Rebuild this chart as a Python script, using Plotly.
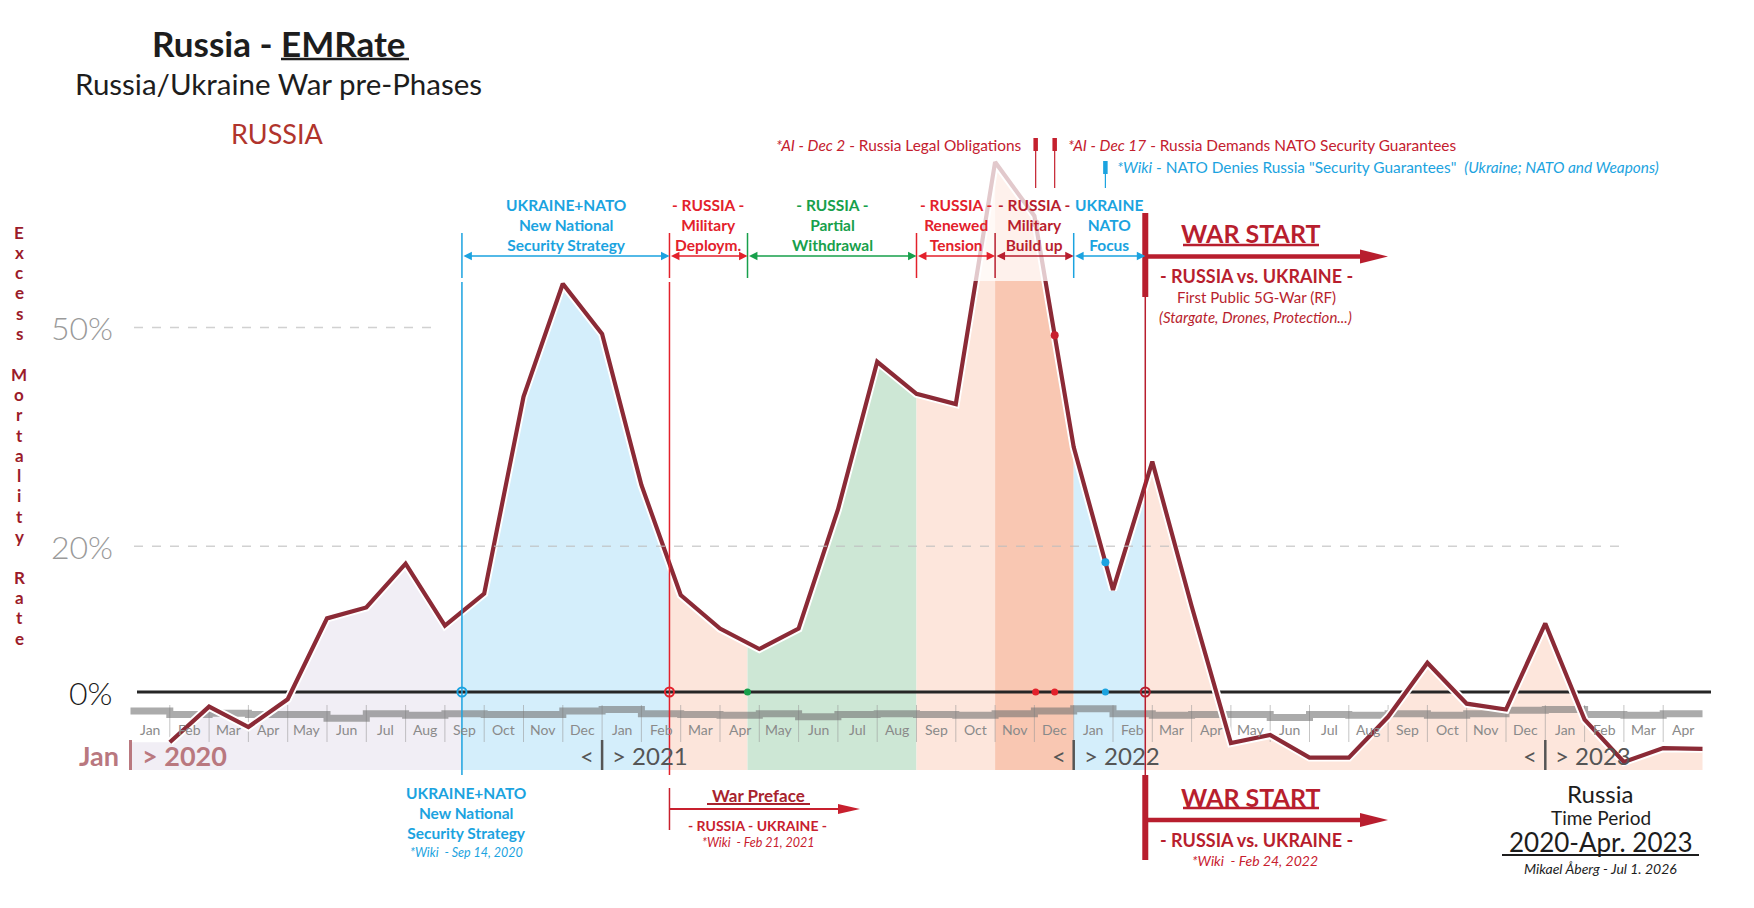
import numpy as np
import pandas as pd
import plotly.graph_objects as go

FONT = "Lato"
W, H = 1754, 908

# chart geometry in pixels: x of Jan 1 2020, px per month, y of the 0 % line, px per %
X0, XW = 130.5, 39.3
Y0, YH = 692.0, 7.29

BLUE = "#1ba3e0"
RED = "#e3212b"
GREEN = "#17a04b"
DRED = "#b81e2e"
MAROON = "#8b2a36"

# ---- data ----
months = pd.period_range("2020-01", "2023-04", freq="M")
month_names = [m.strftime("%b") for m in months]
years = ["2020", "2021", "2022", "2023"]

# excess mortality rate (%), one value per month, drawn at the end of the month
emrate = [-6.9, -2.0, -4.8, -1.0, 10.1, 11.6, 17.6, 9.1, 13.5, 40.5,
          56.0, 49.1, 28.4, 13.3, 8.7, 5.9, 8.7, 25.0, 45.3, 40.9,
          39.5, 72.7, 65.3, 33.6, 14.0, 31.6, 11.8, -7.0, -5.9, -9.0,
          -9.0, -3.4, 4.0, -1.6, -2.4, 9.4, -3.8, -9.6, -7.7, -7.8]

# grey seasonal strip below the zero line (%)
baseline = [-2.6, -3.1, -2.9, -3.1, -3.1, -3.6, -3.0, -3.2, -3.0, -3.1, -3.1, -2.6,
            -2.4, -3.0, -3.1, -3.2, -3.0, -3.4, -3.1, -3.0, -3.1, -3.2, -3.0, -2.6,
            -2.3, -3.0, -3.2, -3.1, -3.1, -3.5, -3.1, -3.2, -3.0, -3.2, -3.0, -2.5,
            -2.4, -3.1, -3.2, -3.0]

ytick_vals = [50, 20, 0]
ytick_text = ["50%", "20%", "0%"]
ytick_color = ["#9a9a9a", "#9a9a9a", "#1a1a1a"]

# phases (background bands under the curve)
phase_start = ["2020-01-01", "2020-09-14", "2021-02-21", "2021-04-22",
               "2021-09-01", "2021-11-01", "2022-01-01", "2022-02-24"]
phase_end = phase_start[1:] + ["2023-05-01"]
phase_fill = ["#f1eef5", "#d4eefb", "#fce5db", "#cde7d5",
              "#fde6dc", "#f9c7b2", "#d4eefb", "#fde6dc"]
phase_title = [None,
               "UKRAINE+NATO<br>New National<br>Security Strategy",
               "- RUSSIA -<br>Military<br>Deploym.",
               "- RUSSIA -<br>Partial<br>Withdrawal",
               "- RUSSIA -<br>Renewed<br>Tension",
               "- RUSSIA -<br>Military<br>Build up",
               "UKRAINE<br>NATO<br>Focus",
               None]
phase_color = [None, BLUE, RED, GREEN, RED, DRED, BLUE, DRED]

# events marked on the zero line / on the curve
dot_date = ["2021-04-22", "2021-12-02", "2021-12-17", "2022-01-26"]
dot_color = [GREEN, RED, RED, BLUE]
ring_date = ["2020-09-14", "2021-02-21", "2022-02-24"]
ring_color = [BLUE, RED, DRED]
curve_date = ["2021-12-02", "2021-12-17", "2022-01-26"]
curve_color = ["#c0392b", "#c8202f", BLUE]


def to_t(date):
    d = pd.Timestamp(date)
    return (d.year - 2020) * 12 + d.month - 1 + (d.day - 1) / d.days_in_month


def tx(px):
    return (px - X0) / XW


def vy(py):
    return (Y0 - py) / YH


month_t = np.arange(1, len(months) + 1)
BASE = vy(770)

fig = go.Figure()

# phase fills between curve and the bottom strip
for a, b, col in zip(phase_start, phase_end, phase_fill):
    ta, tb = to_t(a), to_t(b)
    inner = month_t[(month_t > ta) & (month_t < tb)]
    xs = np.concatenate([[ta], inner, [tb]])
    ys = np.interp(xs, month_t, emrate)
    fig.add_trace(go.Scatter(
        x=np.concatenate([xs, [tb, ta]]),
        y=np.concatenate([ys, [BASE, BASE]]),
        mode="lines", fill="toself", fillcolor=col,
        line=dict(width=0), hoverinfo="skip"))

# month separators
sep_x, sep_y = [], []
for t in month_t[:-1]:
    sep_x += [t, t, None]
    sep_y += [vy(705), vy(742), None]
fig.add_trace(go.Scatter(x=sep_x, y=sep_y, mode="lines",
                         line=dict(color="rgba(150,150,150,0.55)", width=1),
                         hoverinfo="skip"))

# grey step strip
fig.add_trace(go.Scatter(
    x=np.arange(0, len(months) + 1), y=baseline + baseline[-1:],
    mode="lines", line=dict(color="rgba(115,115,115,0.6)", width=7, shape="hv"),
    hoverinfo="skip"))

# zero line
fig.add_trace(go.Scatter(x=[tx(137), tx(1711)], y=[0, 0], mode="lines",
                         line=dict(color="#262626", width=3), hoverinfo="skip"))

# the curve, with a white halo
fig.add_trace(go.Scatter(x=month_t, y=emrate, mode="lines",
                         line=dict(color="white", width=8), hoverinfo="skip"))
fig.add_trace(go.Scatter(x=month_t, y=emrate, mode="lines",
                         line=dict(color=MAROON, width=4.2), name="Russia"))

# event dots
ct = [to_t(d) for d in curve_date]
fig.add_trace(go.Scatter(x=ct, y=np.interp(ct, month_t, emrate), mode="markers",
                         marker=dict(color=curve_color, size=8), hoverinfo="skip"))
fig.add_trace(go.Scatter(x=[to_t(d) for d in dot_date], y=[0] * len(dot_date),
                         mode="markers", marker=dict(color=dot_color, size=7),
                         hoverinfo="skip"))
fig.add_trace(go.Scatter(x=[to_t(d) for d in ring_date], y=[0] * len(ring_date),
                         mode="markers",
                         marker=dict(symbol="circle-open", color=ring_color, size=9,
                                     line=dict(width=2)),
                         hoverinfo="skip"))

shapes = []
annotations = []


def vline(t, y0, y1, color, width):
    shapes.append(dict(type="line", xref="x", yref="y", x0=t, x1=t, y0=y0, y1=y1,
                       line=dict(color=color, width=width), layer="above"))


def hline(t0, t1, v, color, width, dash=None):
    shapes.append(dict(type="line", xref="x", yref="y", x0=t0, x1=t1, y0=v, y1=v,
                       line=dict(color=color, width=width, dash=dash), layer="above"))


def arrow(x0, x1, ypix, color, lw, hl, hw):
    hline(tx(x0), tx(x1 - hl + 2), vy(ypix), color, lw)
    path = (f"M {tx(x1 - hl)},{vy(ypix - hw)} L {tx(x1)},{vy(ypix)} "
            f"L {tx(x1 - hl)},{vy(ypix + hw)} Z")
    shapes.append(dict(type="path", xref="x", yref="y", path=path,
                       fillcolor=color, line=dict(width=0), layer="above"))


def label(xp, yp, text, size, color, xanchor="center", weight=None):
    font = dict(family=FONT, size=size, color=color)
    if weight:
        font["weight"] = weight
    annotations.append(dict(x=tx(xp), y=vy(yp), xref="x", yref="y", text=text,
                            showarrow=False, xanchor=xanchor, yanchor="middle",
                            font=font))


# faded top of the chart
shapes.append(dict(type="rect", xref="x", yref="y", x0=tx(0), x1=tx(W),
                   y0=vy(281), y1=vy(0), fillcolor="white", opacity=0.75,
                   line=dict(width=0), layer="above"))

# dashed grid
hline(tx(134), tx(1622), 20, "rgba(190,190,190,0.7)", 1.5, "dash")
hline(tx(134), tx(436), 50, "rgba(190,190,190,0.7)", 1.5, "dash")

# phase headers with dimension arrows
ARROW_V = vy(256)
for i in range(1, 7):
    ta, tb = to_t(phase_start[i]), to_t(phase_end[i])
    col = phase_color[i]
    vline(ta, vy(233), vy(278), col, 1.5)
    annotations.append(dict(x=tb, y=ARROW_V, ax=ta, ay=ARROW_V, xref="x", yref="y",
                            axref="x", ayref="y", text="", showarrow=True,
                            arrowhead=2, arrowside="end+start", arrowsize=1.3,
                            arrowwidth=1.3, arrowcolor=col, standoff=0, startstandoff=0))
    annotations.append(dict(x=(ta + tb) / 2, y=vy(225), xref="x", yref="y",
                            text=f"<b>{phase_title[i]}</b>", showarrow=False,
                            font=dict(family=FONT, size=15.5, color=col)))

t_sep, t_feb, t_war = to_t("2020-09-14"), to_t("2021-02-21"), to_t("2022-02-24")
vline(t_sep, vy(282), vy(775), BLUE, 1.5)
vline(t_feb, vy(282), vy(775), RED, 1.5)
vline(t_war, vy(297), vy(775), DRED, 1.5)
vline(t_war, vy(213), vy(297), DRED, 6)
vline(t_war, vy(775), vy(860), DRED, 6)
vline(t_feb, vy(788), vy(830), "#c8202e", 1.5)

# top event markers
for d, col, top in zip(["2021-12-02", "2021-12-17", "2022-01-26"],
                       ["#c4202e", "#c4202e", BLUE], [138, 138, 161]):
    vline(to_t(d), vy(top), vy(top + 13), col, 4.5)
    vline(to_t(d), vy(top + 13), vy(188), col, 1.2)

label(1024, 145, "<i>*AI - Dec 2</i> - Russia Legal Obligations", 15.4, "#c4202e", "right")
label(1066, 145, "<i>*AI - Dec 17</i> - Russia Demands NATO Security Guarantees",
      15.4, "#c4202e", "left")
label(1115, 167, '<i>*Wiki</i> - NATO Denies Russia "Security Guarantees"  '
      '<i>(Ukraine; NATO and Weapons)</i>', 15.4, BLUE, "left")

# war start (top)
label(1251, 233, "<b>WAR START</b>", 25, DRED)
hline(tx(1183), tx(1319), vy(245), DRED, 2.5)
arrow(1146, 1388, 256.5, DRED, 4.5, 28, 7)
label(1256, 276, "<b>- RUSSIA vs. UKRAINE -</b>", 18, DRED)
label(1256, 297, "First Public 5G-War (RF)", 15, DRED)
label(1255, 317, "<i>(Stargate, Drones, Protection...)</i>", 15, DRED)

# war start (bottom)
label(1251, 797, "<b>WAR START</b>", 25, DRED)
hline(tx(1183), tx(1319), vy(808), DRED, 2.5)
arrow(1146, 1388, 820, DRED, 4.5, 28, 7)
label(1256, 840, "<b>- RUSSIA vs. UKRAINE -</b>", 18, DRED)
label(1255, 860, "<i>*Wiki  - Feb 24, 2022</i>", 14, "#c8202e")

# war preface
label(758, 795, "<b>War Preface</b>", 17, "#a8232e")
hline(tx(707), tx(810), vy(804), "#a8232e", 2)
arrow(670, 860, 809, "#c8202e", 2.2, 22, 5)
label(757, 825, "<b>- RUSSIA - UKRAINE -</b>", 14, "#c8202e")
label(758, 842, "<i>*Wiki  - Feb 21, 2021</i>", 12.5, "#c8202e")

# ukraine+nato (bottom)
label(466, 813, "<b>UKRAINE+NATO<br>New National<br>Security Strategy</b>", 15.5, BLUE)
label(466, 852, "<i>*Wiki  - Sep 14, 2020</i>", 12.5, BLUE)

# time period block
label(1600, 793, "Russia", 24, "#1d1d1d")
label(1601, 817, "Time Period", 19, "#1d1d1d")
label(1601, 842, "2020-Apr. 2023", 26, "#1d1d1d")
hline(tx(1502), tx(1699), vy(855), "#1d1d1d", 2)
label(1600, 868, "<i>Mikael Åberg - Jul 1. 2026</i>", 14, "#1d1d1d")

# titles
label(279, 43, "<b>Russia - EMRate</b>", 35, "#1d1d1d")
hline(tx(281), tx(409), vy(59), "#1d1d1d", 2.5)
label(278, 83, "Russia/Ukraine War pre-Phases", 29.5, "#1d1d1d")
label(277, 133, "RUSSIA", 27, "#b0342c")

# vertical axis title, one letter per row
for i, ch in enumerate("Excess Mortality Rate"):
    if ch != " ":
        label(19, 232 + i * 20.3, f"<b>{ch}</b>", 17, "#9b1b2a")

# y tick labels
for v, txt, col in zip(ytick_vals, ytick_text, ytick_color):
    annotations.append(dict(x=tx(115), y=v, xref="x", yref="y", text=txt,
                            showarrow=False, xanchor="right", yanchor="middle",
                            font=dict(family=FONT, size=32, color=col, weight=300)))

# month labels
for i, name in enumerate(month_names):
    annotations.append(dict(x=i + 0.5, y=vy(729), xref="x", yref="y", text=name,
                            showarrow=False, font=dict(family=FONT, size=14,
                                                       color="#8a8a8a")))

# year labels
vline(0, vy(740), vy(770), "#b9787f", 3)
label(121, 755, "<b>Jan</b>", 27, "#b9787f", "right")
label(140, 755, f"<b>> {years[0]}</b>", 27, "#b9787f", "left")
for k, yr in enumerate(years[1:], start=1):
    t = 12 * k
    vline(t, vy(740), vy(770), "#555555", 2.5)
    annotations.append(dict(x=t, y=vy(755), xref="x", yref="y", text="<",
                            showarrow=False, xanchor="right", xshift=-6,
                            font=dict(family=FONT, size=24, color="#555555")))
    annotations.append(dict(x=t, y=vy(755), xref="x", yref="y", text=f"> {yr}",
                            showarrow=False, xanchor="left", xshift=8,
                            font=dict(family=FONT, size=24, color="#555555")))

fig.update_layout(
    width=W, height=H,
    margin=dict(l=0, r=0, t=0, b=0),
    paper_bgcolor="white", plot_bgcolor="white",
    showlegend=False,
    xaxis=dict(range=[tx(0), tx(W)], visible=False),
    yaxis=dict(range=[vy(H), vy(0)], visible=False),
    shapes=shapes,
    annotations=annotations,
    font=dict(family=FONT),
)

fig.write_html("out.html", config={"displayModeBar": False},
               post_script="document.body.style.margin='0';"
                           "document.body.style.overflow='hidden';")
